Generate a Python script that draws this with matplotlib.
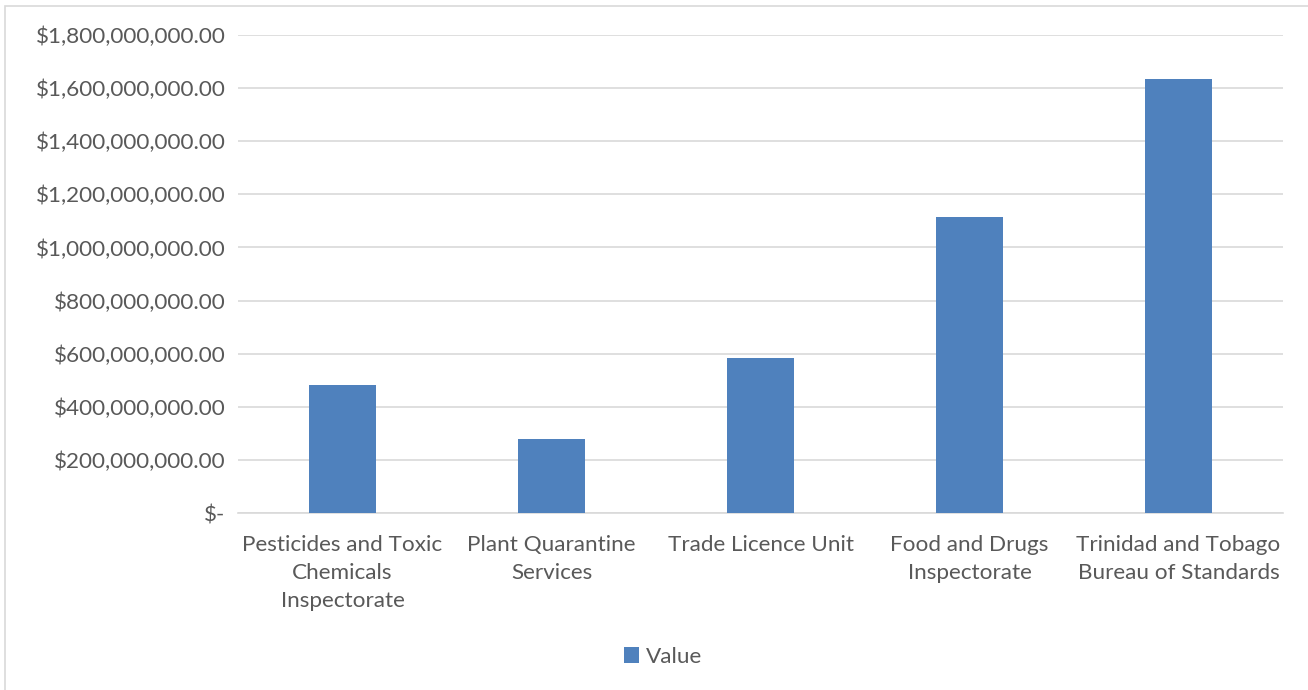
import matplotlib.pyplot as plt
import matplotlib.ticker as mticker
from matplotlib.patches import Rectangle
import numpy as np

categories = ["Pesticides and Toxic\nChemicals\nInspectorate",
              "Plant Quarantine\nServices",
              "Trade Licence Unit",
              "Food and Drugs\nInspectorate",
              "Trinidad and Tobago\nBureau of Standards"]
values = [482e6, 279e6, 584e6, 1115e6, 1635e6]
yticks = np.arange(0, 1.8e9 + 1, 2e8)

plt.rcParams['font.family'] = ['Lato', 'DejaVu Sans']
text_color = "#595959"
fsize = 16.2

fig = plt.figure(figsize=(13.08, 6.9), dpi=100)
ax = fig.add_axes([238 / 1308, 1 - 513 / 690, (1283 - 238) / 1308, (513 - 35) / 690])

x = np.arange(len(categories))
ax.bar(x, values, width=0.316, color="#4F81BD", label="Value", zorder=3)

ax.set_xlim(-0.5, len(categories) - 0.5)
ax.set_ylim(0, 1.8e9)
ax.set_yticks(yticks)


def money(v, pos):
    if v == 0:
        return "$-"
    return "${:,.2f}".format(v)


ax.yaxis.set_major_formatter(mticker.FuncFormatter(money))
ax.set_xticks(x)
ax.set_xticklabels(categories, linespacing=1.5)
ax.tick_params(axis="both", length=0, labelsize=fsize, colors=text_color)
ax.tick_params(axis="y", pad=9)
ax.tick_params(axis="x", pad=16)

ax.grid(axis="y", color="#D9D9D9", linewidth=1.2, zorder=0)
for s in ["top", "right", "left"]:
    ax.spines[s].set_visible(False)
ax.spines["bottom"].set_color("#D9D9D9")
ax.spines["bottom"].set_linewidth(1.2)

leg = fig.legend(loc="center", bbox_to_anchor=(663 / 1308, 1 - 657 / 690), frameon=False,
                 fontsize=fsize, handlelength=0.7, handleheight=0.7, handletextpad=0.3)
for t in leg.get_texts():
    t.set_color(text_color)

# outer chart border
fig.patches.append(Rectangle((5 / 1308, -0.1), 1.2, 1 - 6 / 690 + 0.1, transform=fig.transFigure,
                             fill=False, edgecolor="#D9D9D9", linewidth=1.2))

fig.savefig("out.png", dpi=100)
